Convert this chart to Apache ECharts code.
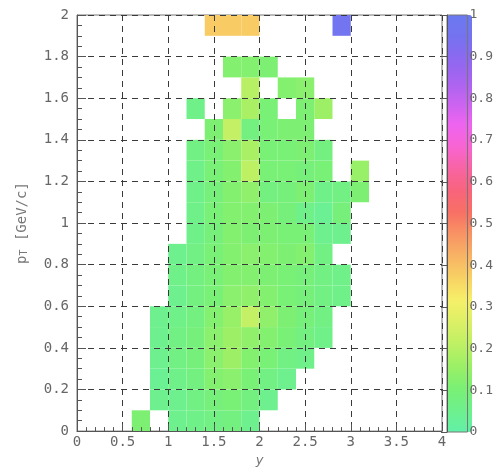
<!DOCTYPE html>
<html>
<head>
<meta charset="utf-8">
<script src="https://cdn.jsdelivr.net/npm/echarts@6/dist/echarts.min.js"></script>
<style>
  html, body { margin: 0; padding: 0; background: #fff; }
  #chart { width: 496px; height: 472px; }
</style>
</head>
<body>
<div id="chart"></div>
<script>
// Bin edges of the 2D histogram (rapidity y along x, pT along y)
const xLow = [0.0, 0.2, 0.4, 0.6, 0.8, 1.0, 1.2, 1.4, 1.6, 1.8,
              2.0, 2.2, 2.4, 2.6, 2.8, 3.0, 3.2, 3.4, 3.6, 3.8];
const xWidth = 0.2;
const yLow = [0.0, 0.1, 0.2, 0.3, 0.4, 0.5, 0.6, 0.7, 0.8, 0.9,
              1.0, 1.1, 1.2, 1.3, 1.4, 1.5, 1.6, 1.7, 1.8, 1.9];
const yWidth = 0.1;

// Bin contents, one row per pT bin (bottom row first); null = empty bin
const row00 = [null, null, null, 0.11, null, 0.05, 0.06, 0.07, 0.08, 0.05, null, null, null, null, null, null, null, null, null, null];
const row01 = [null, null, null, null, 0.05, 0.05, 0.07, 0.09, 0.10, 0.08, 0.05, null, null, null, null, null, null, null, null, null];
const row02 = [null, null, null, null, 0.04, 0.06, 0.08, 0.12, 0.13, 0.10, 0.07, 0.05, null, null, null, null, null, null, null, null];
const row03 = [null, null, null, null, 0.05, 0.07, 0.09, 0.13, 0.16, 0.12, 0.10, 0.07, 0.06, null, null, null, null, null, null, null];
const row04 = [null, null, null, null, 0.05, 0.07, 0.09, 0.13, 0.16, 0.14, 0.12, 0.10, 0.08, 0.06, null, null, null, null, null, null];
const row05 = [null, null, null, null, 0.05, 0.06, 0.08, 0.12, 0.15, 0.22, 0.14, 0.11, 0.09, 0.07, null, null, null, null, null, null];
const row06 = [null, null, null, null, null, 0.05, 0.08, 0.10, 0.13, 0.14, 0.12, 0.10, 0.09, 0.07, 0.06, null, null, null, null, null];
const row07 = [null, null, null, null, null, 0.06, 0.08, 0.10, 0.12, 0.12, 0.11, 0.10, 0.09, 0.07, 0.06, null, null, null, null, null];
const row08 = [null, null, null, null, null, 0.05, 0.07, 0.10, 0.12, 0.13, 0.12, 0.11, 0.12, 0.07, null, null, null, null, null, null];
const row09 = [null, null, null, null, null, null, 0.06, 0.09, 0.12, 0.11, 0.11, 0.10, 0.10, 0.05, 0.05, null, null, null, null, null];
const row10 = [null, null, null, null, null, null, 0.06, 0.10, 0.12, 0.12, 0.11, 0.09, 0.06, 0.04, 0.09, null, null, null, null, null];
const row11 = [null, null, null, null, null, null, 0.06, 0.09, 0.12, 0.14, 0.08, 0.09, 0.11, 0.06, 0.07, 0.11, null, null, null, null];
const row12 = [null, null, null, null, null, null, 0.06, 0.10, 0.12, 0.21, 0.10, 0.10, 0.09, 0.10, null, 0.15, null, null, null, null];
const row13 = [null, null, null, null, null, null, 0.07, 0.10, 0.13, 0.18, 0.10, 0.10, 0.11, 0.08, null, null, null, null, null, null];
const row14 = [null, null, null, null, null, null, null, 0.11, 0.22, 0.08, 0.10, 0.11, 0.11, null, null, null, null, null, null, null];
const row15 = [null, null, null, null, null, null, 0.06, null, 0.13, 0.18, 0.10, null, 0.11, 0.16, null, null, null, null, null, null];
const row16 = [null, null, null, null, null, null, null, null, null, 0.20, null, 0.12, 0.13, null, null, null, null, null, null, null];
const row17 = [null, null, null, null, null, null, null, null, 0.12, 0.12, 0.11, null, null, null, null, null, null, null, null, null];
const row18 = [null, null, null, null, null, null, null, null, null, null, null, null, null, null, null, null, null, null, null, null];
const row19 = [null, null, null, null, null, null, null, 0.38, 0.38, 0.38, null, null, null, null, 0.96, null, null, null, null, null];

const rows = [row00, row01, row02, row03, row04, row05, row06, row07, row08, row09,
              row10, row11, row12, row13, row14, row15, row16, row17, row18, row19];

// Colour palette of the z axis, from 0 (bottom) to 1 (top)
const palette = ['#62f0a8', '#6ef08c', '#7af074', '#9cf066', '#bef064', '#dcf066',
                 '#f6f068', '#f8d264', '#f8b464', '#f89464', '#f87064', '#f8647c',
                 '#f864a2', '#f864d2', '#ee64f0', '#c864f0', '#a864f0', '#8e68f0',
                 '#7472f0', '#6a7af0'];

const zRange = [0, 1];

const cellData = [];
rows.forEach((row, j) => {
  row.forEach((v, i) => {
    if (v !== null) {
      cellData.push([xLow[i], xLow[i] + xWidth, yLow[j], yLow[j] + yWidth, v]);
    }
  });
});

const axisGray = '#555';
const labelFont = { fontFamily: 'DejaVu Sans Mono', fontSize: 14, color: '#666' };

const chart = echarts.init(document.getElementById('chart'), null, { renderer: 'canvas' });

chart.setOption({
  animation: false,
  backgroundColor: '#fff',
  grid: [
    { left: 77, top: 15, width: 365, height: 417, show: true, borderColor: '#777', borderWidth: 1, z: 0 },
    { left: 447, top: 15, width: 25, height: 417, show: true, borderColor: '#777', borderWidth: 1, z: 10, backgroundColor: 'transparent' }
  ],
  xAxis: [
    {
      type: 'value', gridIndex: 0, min: 0, max: 4, interval: 0.5, z: 5,
      name: 'y', nameLocation: 'middle', nameGap: 21,
      nameTextStyle: { fontFamily: 'DejaVu Sans', fontSize: 13, fontStyle: 'italic', color: '#777' },
      axisLine: { show: true, lineStyle: { color: axisGray, width: 1 } },
      axisTick: { show: true, inside: true, length: 7, lineStyle: { color: axisGray } },
      minorTick: { show: true, splitNumber: 5, length: 4, lineStyle: { color: axisGray } },
      splitLine: { show: true, lineStyle: { color: '#3a3a3a', type: [6, 5], width: 1 } },
      axisLabel: Object.assign({ margin: 4 }, labelFont)
    },
    {
      type: 'value', gridIndex: 1, min: 0, max: 1, show: false
    }
  ],
  yAxis: [
    {
      type: 'value', gridIndex: 0, min: 0, max: 2, interval: 0.2, z: 5,
      name: '{a|p}{s|T}{a| [GeV/c]}', nameLocation: 'middle', nameGap: 48,
      nameTextStyle: {
        color: '#777',
        rich: {
          a: { fontFamily: 'DejaVu Sans Mono', fontSize: 14, color: '#777' },
          s: { fontFamily: 'DejaVu Sans Mono', fontSize: 10, color: '#777', verticalAlign: 'bottom' }
        }
      },
      axisLine: { show: true, lineStyle: { color: axisGray, width: 1 } },
      axisTick: { show: true, inside: true, length: 9, lineStyle: { color: axisGray } },
      minorTick: { show: true, splitNumber: 4, length: 5, lineStyle: { color: axisGray } },
      splitLine: { show: true, lineStyle: { color: '#3a3a3a', type: [6, 5], width: 1 } },
      axisLabel: Object.assign({ margin: 8 }, labelFont)
    },
    {
      type: 'value', gridIndex: 1, min: 0, max: 1, interval: 0.1, position: 'right', z: 12,
      axisLine: { show: true, lineStyle: { color: axisGray } },
      axisTick: { show: true, inside: true, length: 6, lineStyle: { color: axisGray } },
      splitLine: { show: false },
      axisLabel: { margin: 2, fontFamily: 'DejaVu Sans Mono', fontSize: 13, color: '#666' }
    }
  ],
  visualMap: {
    type: 'continuous',
    min: zRange[0], max: zRange[1],
    dimension: 4,
    seriesIndex: 0,
    orient: 'vertical',
    left: 447, top: 15,
    itemWidth: 25, itemHeight: 417,
    padding: 0,
    calculable: false,
    inRange: { color: palette },
    z: 4
  },
  series: [
    {
      type: 'custom',
      xAxisIndex: 0, yAxisIndex: 0,
      z: 2,
      encode: { x: [0, 1], y: [2, 3] },
      data: cellData,
      renderItem: function (params, api) {
        const topLeft = api.coord([api.value(0), api.value(3)]);
        const bottomRight = api.coord([api.value(1), api.value(2)]);
        return {
          type: 'rect',
          shape: {
            x: topLeft[0],
            y: topLeft[1],
            width: bottomRight[0] - topLeft[0],
            height: bottomRight[1] - topLeft[1]
          },
          style: { fill: api.visual('color') }
        };
      }
    }
  ]
});
</script>
</body>
</html>
